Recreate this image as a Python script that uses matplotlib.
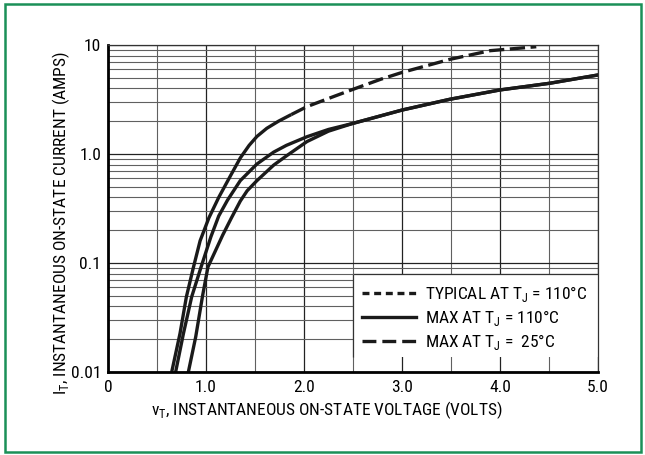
import matplotlib
matplotlib.use("Agg")
import matplotlib.pyplot as plt
from matplotlib import font_manager as fm
from matplotlib.lines import Line2D
from matplotlib.patches import Rectangle

# pick a narrow face if one is installed
fonts = fm.fontManager.ttflist
names = {f.name for f in fonts}
stretch = 'normal'
family = 'DejaVu Sans'
for cand in ['Liberation Sans Narrow', 'Roboto Condensed', 'Open Sans Condensed',
             'Noto Sans Condensed', 'DejaVu Sans Condensed']:
    if cand in names:
        family = cand
        break
else:
    if any(f.name == 'DejaVu Sans' and f.stretch == 'condensed' for f in fonts):
        stretch = 'condensed'
    elif any(f.name == 'Noto Sans' and f.stretch == 'condensed' for f in fonts):
        family, stretch = 'Noto Sans', 'condensed'

plt.rcParams['font.family'] = [family, 'DejaVu Sans']
plt.rcParams['font.stretch'] = stretch
plt.rcParams['mathtext.fontset'] = 'custom'
plt.rcParams['mathtext.rm'] = family
plt.rcParams['lines.scale_dashes'] = False

# MAX AT TJ = 25C (upper curve), solid up to the knee, dashed above
v_25 = [0.65, 0.735, 0.80, 0.87, 0.94, 1.03, 1.13, 1.245, 1.35, 1.44, 1.52, 1.62, 1.74, 1.87,
        2.03, 2.30, 2.50, 2.78, 3.0, 3.49, 3.90, 4.37]
i_25 = [0.01, 0.0226, 0.049, 0.09, 0.16, 0.26, 0.40, 0.62, 0.92, 1.2, 1.45, 1.72, 2.0, 2.3,
        2.72, 3.36, 3.92, 4.84, 5.6, 7.39, 8.87, 9.64]
knee = 13

# TYPICAL AT TJ = 110C (middle curve)
v_typ = [0.69, 0.77, 0.854, 0.95, 1.05, 1.13, 1.22, 1.35, 1.52, 1.69, 1.82, 2.03, 2.25, 2.5,
         3.0, 3.49, 4.0, 4.51, 5.0]
i_typ = [0.01, 0.0226, 0.049, 0.092, 0.174, 0.27, 0.378, 0.57, 0.81, 1.04, 1.2, 1.44, 1.68, 1.91,
         2.53, 3.18, 3.87, 4.46, 5.31]

# MAX AT TJ = 110C (right curve)
v_max = [0.82, 0.895, 0.965, 1.02, 1.17, 1.26, 1.35, 1.42, 1.52, 1.69, 1.82, 2.03, 2.25, 2.5,
         3.0, 3.49, 4.0, 4.51, 5.0]
i_max = [0.01, 0.021, 0.05, 0.092, 0.18, 0.26, 0.37, 0.46, 0.57, 0.79, 0.96, 1.3, 1.62, 1.91,
         2.53, 3.18, 3.87, 4.46, 5.31]

x_ticks = [0, 1, 2, 3, 4, 5]
x_labels = ['0', '1.0', '2.0', '3.0', '4.0', '5.0']
y_ticks = [0.01, 0.1, 1, 10]
y_labels = ['0.01', '0.1', '1.0', '10']
legend_labels = ['TYPICAL AT T$_\\mathregular{J}$ = 110°C',
                 'MAX AT T$_\\mathregular{J}$ = 110°C',
                 'MAX AT T$_\\mathregular{J}$ =  25°C']

fs = 12.5
fig = plt.figure(figsize=(6.45, 4.55), dpi=100)
ax = fig.add_axes([108/645, 1 - 372/455, 490/645, 327/455])
ax.set_yscale('log')
ax.set_xlim(0, 5)
ax.set_ylim(0.01, 10)
ax.set_axisbelow(True)

ax.set_xticks(x_ticks)
ax.set_xticklabels(x_labels)
ax.set_xticks([0.5, 1.5, 2.5, 3.5, 4.5], minor=True)
ax.set_yticks(y_ticks)
ax.set_yticklabels(y_labels)
ax.tick_params(which='both', length=0, labelsize=fs)
ax.tick_params(axis='x', pad=6)
ax.tick_params(axis='y', pad=5)
ax.yaxis.set_minor_formatter(plt.NullFormatter())
ax.grid(which='major', color='#222222', lw=0.9)
ax.grid(which='minor', color='#606060', lw=0.8)

for s in ['left', 'bottom']:
    ax.spines[s].set_linewidth(2.0)
for s in ['top', 'right']:
    ax.spines[s].set_linewidth(0.9)
    ax.spines[s].set_color('#333333')

lw = 2.4
ax.plot(v_25[:knee + 1], i_25[:knee + 1], color='#1a1a1a', lw=lw, solid_capstyle='butt')
ax.plot(v_25[knee:], i_25[knee:], color='#1a1a1a', lw=lw, dashes=(11, 4), dash_capstyle='butt')
ax.plot(v_typ, i_typ, color='#1a1a1a', lw=lw)
ax.plot(v_max, i_max, color='#1a1a1a', lw=lw)

# legend box covering the grid
ax.add_patch(Rectangle((2.5, 0.0137), 2.5, 0.079 - 0.0137, facecolor='white',
                       edgecolor='none', zorder=1))
ax.vlines(2.5, 0.0137, 0.079, color='#333333', lw=0.9, zorder=1.2)
ax.hlines(0.079, 2.5, 5.0, color='#333333', lw=0.9, zorder=1.2)

handles = [Line2D([], [], color='#1a1a1a', lw=lw, dashes=(5, 3.4), dash_capstyle='butt'),
           Line2D([], [], color='#1a1a1a', lw=lw),
           Line2D([], [], color='#1a1a1a', lw=lw, dashes=(10, 4.3), dash_capstyle='butt')]
fig.legend(handles, legend_labels, loc='center left',
           bbox_to_anchor=(362/645, 1 - 318/455), frameon=False, fontsize=fs,
           handlelength=3.1, handletextpad=0.55, labelspacing=0.22, borderpad=0,
           borderaxespad=0)

fig.text(327/645, 1 - 410/455, 'v$_\\mathregular{T}$, INSTANTANEOUS ON-STATE VOLTAGE (VOLTS)',
         ha='center', va='center', fontsize=fs)
fig.text(61/645, 1 - 223/455, 'I$_\\mathregular{T}$, INSTANTANEOUS ON-STATE CURRENT (AMPS)',
         ha='center', va='center', rotation=90, fontsize=fs)

fig.add_artist(Rectangle((5/645, 3/455), 636/645, 448/455, transform=fig.transFigure,
                         facecolor='none', edgecolor='#1a9058', lw=1.8))

fig.savefig('out.png', dpi=100)
